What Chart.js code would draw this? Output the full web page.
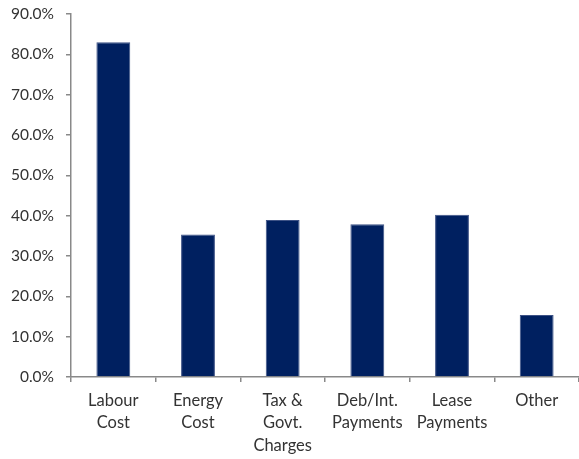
<!DOCTYPE html>
<html>
<head>
<meta charset="utf-8">
<script src="https://cdn.jsdelivr.net/npm/chart.js@4/dist/chart.umd.min.js"></script>
<style>
  html, body { margin: 0; padding: 0; background: #fff; }
  #wrap { width: 579px; height: 459px; }
</style>
</head>
<body>
<div id="wrap"><canvas id="costChart" width="579" height="459"></canvas></div>
<script>
// cost components, share of respondents (%)
const categories = [
    ['Labour', 'Cost'],
    ['Energy', 'Cost'],
    ['Tax &', 'Govt.', 'Charges'],
    ['Deb/Int.', 'Payments'],
    ['Lease', 'Payments'],
    ['Other']
];
const shares = [83.0, 35.3, 38.9, 37.9, 40.2, 15.4];

const axisGrey = '#898989';
const fontFamily = 'Lato, "Open Sans", sans-serif';

new Chart(document.getElementById('costChart').getContext('2d'), {
    type: 'bar',
    data: {
        labels: categories,
        datasets: [{
            data: shares,
            backgroundColor: '#002060',
            borderColor: '#3d5286',
            borderWidth: 1,
            barPercentage: 0.4,
            categoryPercentage: 1.0
        }]
    },
    options: {
        responsive: false,
        animation: false,
        layout: { padding: { top: 14, right: 0, left: 0, bottom: 0 } },
        plugins: {
            legend: { display: false },
            tooltip: { enabled: false }
        },
        scales: {
            x: {
                grid: { drawOnChartArea: false, drawTicks: true, tickLength: 5, color: axisGrey, lineWidth: 1.5 },
                border: { display: true, color: axisGrey, width: 1.5 },
                ticks: {
                    color: '#333',
                    font: { family: fontFamily, size: 16.5, lineHeight: 1.37 },
                    padding: 7,
                    maxRotation: 0,
                    autoSkip: false
                },
                afterFit: function(scale) {
                    scale.height = 82;
                    scale.paddingLeft = 0;
                    scale.paddingRight = 0;
                }
            },
            y: {
                min: 0,
                max: 90,
                grid: { drawOnChartArea: false, drawTicks: true, tickLength: 5, color: axisGrey, lineWidth: 1.5 },
                border: { display: true, color: axisGrey, width: 1.5 },
                ticks: {
                    stepSize: 10,
                    color: '#333',
                    font: { family: fontFamily, size: 15.5 },
                    padding: 12,
                    callback: v => v.toFixed(1) + '%'
                },
                afterFit: function(scale) {
                    scale.width = 71;
                    // let the top label overhang instead of pushing the plot down
                    scale.paddingTop = 0;
                    scale.paddingBottom = 0;
                }
            }
        }
    }
});
</script>
</body>
</html>
